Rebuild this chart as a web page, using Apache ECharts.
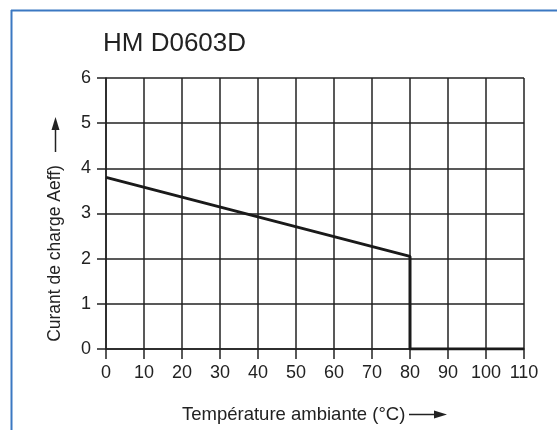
<!DOCTYPE html>
<html>
<head>
<meta charset="utf-8">
<script src="https://cdn.jsdelivr.net/npm/echarts@6/dist/echarts.min.js"></script>
<style>
    html, body { margin: 0; padding: 0; background: #fff; }
    #main { width: 557px; height: 430px; }
</style>
</head>
<body>
<div id="main"></div>
<script>
// 数据
var temps = [0, 80, 80, 110];
var currents = [3.8, 2.05, 0, 0];
var xTicks = [0, 10, 20, 30, 40, 50, 60, 70, 80, 90, 100, 110];
var yTicks = [0, 1, 2, 3, 4, 5, 6];

var chartTitle = 'HM D0603D';
var xName = 'Température ambiante (°C)';
var yName = 'Curant de charge Aeff)';

var ink = '#222';
var frame = '#3b78c2';
var font = 'Liberation Sans';

var myChart = echarts.init(document.getElementById('main'), null, { renderer: 'canvas' });

function chart() {
    var points = temps.map(function (t, i) { return [t, currents[i]]; });
    var option = {
        animation: false,
        backgroundColor: '#fff',
        title: {
            text: chartTitle,
            left: 98,
            top: 26,
            textStyle: {
                color: ink,
                fontSize: 26,
                fontWeight: 'normal',
                fontFamily: font
            }
        },
        grid: {
            left: 106,
            right: 33,
            top: 78,
            bottom: 81
        },
        xAxis: {
            type: 'value',
            min: xTicks[0],
            max: xTicks[xTicks.length - 1],
            interval: 10,
            axisLine: { lineStyle: { color: ink, width: 1.5 } },
            axisTick: { show: true, length: 10, lineStyle: { color: ink, width: 1.5 } },
            axisLabel: { color: ink, fontSize: 18, fontFamily: font, margin: 15 },
            splitLine: { show: true, lineStyle: { color: ink, width: 1.5 } }
        },
        yAxis: {
            type: 'value',
            min: yTicks[0],
            max: yTicks[yTicks.length - 1],
            interval: 1,
            axisLine: { show: true, lineStyle: { color: ink, width: 1.5 } },
            axisTick: { show: true, length: 9, lineStyle: { color: ink, width: 1.5 } },
            axisLabel: { color: ink, fontSize: 18, fontFamily: font, margin: 15 },
            splitLine: { show: true, lineStyle: { color: ink, width: 1.5 } }
        },
        series: [{
            type: 'line',
            data: points,
            showSymbol: false,
            symbol: 'none',
            lineStyle: { color: '#1a1a1a', width: 3 },
            z: 5
        }],
        graphic: [
            // 蓝色边框
            { type: 'line', shape: { x1: 11, y1: 10.5, x2: 557, y2: 10.5 }, style: { stroke: frame, lineWidth: 2 } },
            { type: 'line', shape: { x1: 11.5, y1: 10, x2: 11.5, y2: 430 }, style: { stroke: frame, lineWidth: 2 } },
            // x 轴名称
            {
                type: 'text', left: 182, top: 405,
                style: { text: xName, fill: ink, fontSize: 18.5, fontFamily: font }
            },
            { type: 'line', shape: { x1: 409, y1: 414.5, x2: 436, y2: 414.5 }, style: { stroke: ink, lineWidth: 1.5 } },
            { type: 'polygon', shape: { points: [[434, 410.5], [447, 414.5], [434, 418.5]] }, style: { fill: ink } },
            // y 轴名称
            {
                type: 'text', x: 55.5, y: 253.5, rotation: Math.PI / 2,
                style: { text: yName, fill: ink, fontSize: 17.5, fontFamily: font, align: 'center', verticalAlign: 'middle' }
            },
            { type: 'line', shape: { x1: 55.5, y1: 152, x2: 55.5, y2: 128 }, style: { stroke: ink, lineWidth: 1.5 } },
            { type: 'polygon', shape: { points: [[51.5, 130], [55.5, 117], [59.5, 130]] }, style: { fill: ink } }
        ]
    };
    myChart.setOption(option);
}
chart();
</script>
</body>
</html>
